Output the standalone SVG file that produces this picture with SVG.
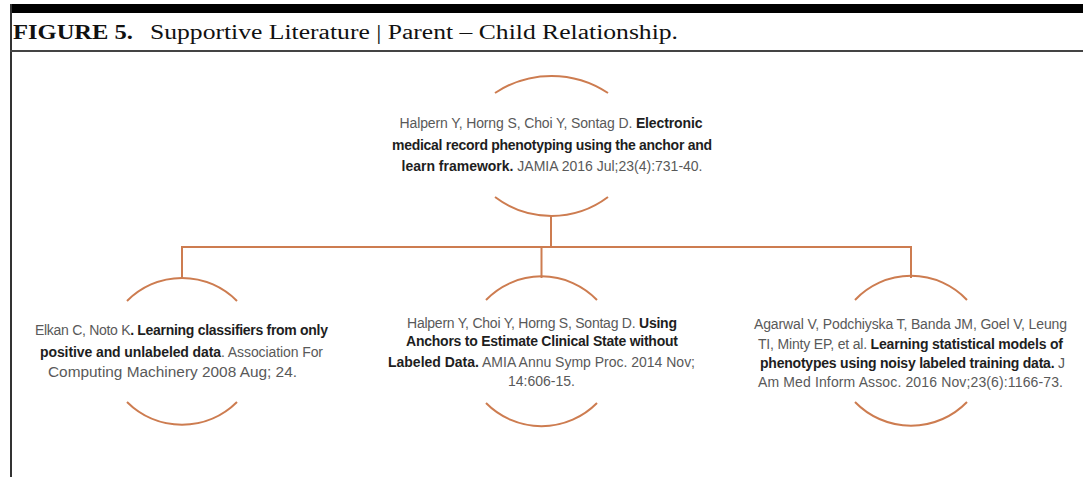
<svg xmlns="http://www.w3.org/2000/svg" width="1083" height="477" viewBox="0 0 1083 477">
<style>
.arc{fill:none;stroke:#CD7C50;stroke-width:2}
.con{fill:none;stroke:#CD7C50;stroke-width:2}
.t{font-family:"Liberation Sans",Arial,sans-serif;font-size:14px;fill:#595959;text-anchor:middle}
.b{font-weight:bold;fill:#1e1e1e}
.title{font-family:"Liberation Serif","Times New Roman",serif;font-size:20.5px;fill:#111}
</style>
<rect x="0" y="0" width="1083" height="477" fill="#ffffff"/>
<g id="frame">
<rect x="10" y="4" width="1073" height="9" fill="#000"/>
<rect x="10" y="4" width="2" height="473" fill="#333"/>
<rect x="10" y="50" width="1073" height="2" fill="#444"/>
<text class="title" x="13" y="39" font-weight="bold" textLength="120" lengthAdjust="spacingAndGlyphs">FIGURE 5.</text>
<text class="title" x="150" y="39" textLength="528" lengthAdjust="spacingAndGlyphs">Supportive Literature | Parent – Child Relationship.</text>
</g>
<g id="connectors">
<line class="con" x1="551" y1="216" x2="551" y2="248"/>
<line class="con" x1="181" y1="247" x2="912" y2="247"/>
<line class="con" x1="182" y1="246" x2="182" y2="278"/>
<line class="con" x1="541.5" y1="247" x2="541.5" y2="278"/>
<line class="con" x1="911" y1="246" x2="911" y2="278"/>
</g>
<g id="node-top">
<path class="arc" d="M495,93 A102,102 0 0 1 608,93"/>
<path class="arc" d="M495,197 A94,94 0 0 0 608,197"/>
<text class="t" x="551" y="128" textLength="303">Halpern Y, Horng S, Choi Y, Sontag D. <tspan class="b">Electronic</tspan></text>
<text class="t" x="552" y="150" textLength="320"><tspan class="b">medical record phenotyping using the anchor and</tspan></text>
<text class="t" x="552" y="171" textLength="301"><tspan class="b">learn framework.</tspan> JAMIA 2016 Jul;23(4):731-40.</text>
</g>
<g id="node-left">
<path class="arc" d="M127,301 A77,77 0 0 1 237,301"/>
<path class="arc" d="M127,402 A78,78 0 0 0 237,402"/>
<text class="t" x="181.5" y="335" textLength="293">Elkan C, Noto K<tspan class="b">. Learning classifiers from only</tspan></text>
<text class="t" x="181.5" y="357" textLength="283"><tspan class="b">positive and unlabeled data</tspan>. Association For</text>
<text class="t" x="172.5" y="377" textLength="249" lengthAdjust="spacingAndGlyphs">Computing Machinery 2008 Aug; 24.</text>
</g>
<g id="node-middle">
<path class="arc" d="M486,300 A77,77 0 0 1 597,300"/>
<path class="arc" d="M486,403 A78,78 0 0 0 597,403"/>
<text class="t" x="542" y="328" textLength="270">Halpern Y, Choi Y, Horng S, Sontag D. <tspan class="b">Using</tspan></text>
<text class="t" x="542" y="346" textLength="272"><tspan class="b">Anchors to Estimate Clinical State without</tspan></text>
<text class="t" x="541.5" y="367" textLength="307"><tspan class="b">Labeled Data.</tspan> AMIA Annu Symp Proc. 2014 Nov;</text>
<text class="t" x="541.5" y="386" textLength="67">14:606-15.</text>
</g>
<g id="node-right">
<path class="arc" d="M855,300 A77,77 0 0 1 967,300"/>
<path class="arc" d="M855,402 A78,78 0 0 0 967,402"/>
<text class="t" x="910.5" y="329" textLength="313">Agarwal V, Podchiyska T, Banda JM, Goel V, Leung</text>
<text class="t" x="910.5" y="349" textLength="305">TI, Minty EP, et al. <tspan class="b">Learning statistical models of</tspan></text>
<text class="t" x="912.5" y="368" textLength="305"><tspan class="b">phenotypes using noisy labeled training data.</tspan> J</text>
<text class="t" x="910.5" y="387" textLength="305">Am Med Inform Assoc. 2016 Nov;23(6):1166-73.</text>
</g>
</svg>
